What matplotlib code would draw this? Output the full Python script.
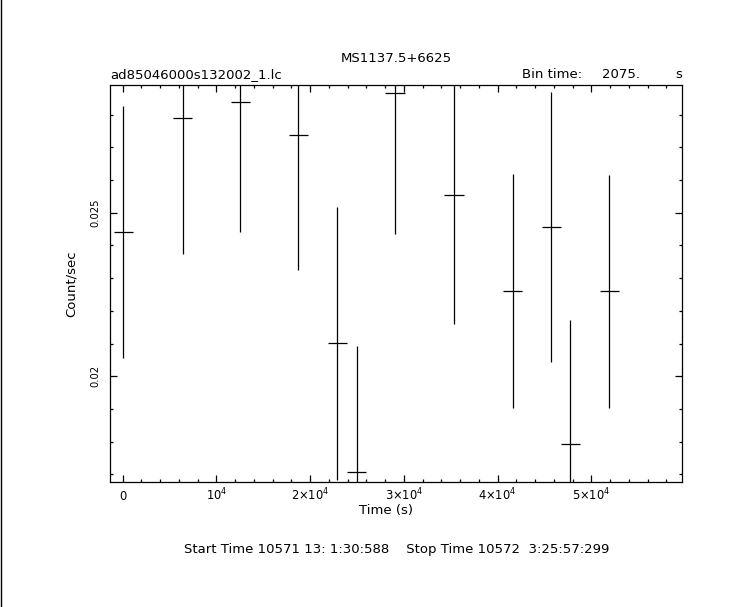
import matplotlib
matplotlib.use("Agg")
import matplotlib.pyplot as plt
from matplotlib.ticker import MultipleLocator, FixedLocator
from matplotlib.lines import Line2D

# Data
time_s = [64, 6401, 12550, 18737, 22898, 24965, 29052, 35346, 41609, 45731, 47756, 51917]
rate = [0.02442, 0.02789, 0.02838, 0.02737, 0.02101, 0.01707, 0.02866, 0.02553,
        0.02261, 0.02456, 0.01792, 0.02260]
rate_err = [0.00385, 0.00414, 0.00396, 0.00412, 0.00417, 0.00386, 0.00432, 0.00393,
            0.00357, 0.00412, 0.00380, 0.00356]
bin_time = 2075.0
xtick_vals = [0, 10000, 20000, 30000, 40000, 50000]
xtick_labels = ["0", r"$10^4$", r"$2{\times}10^4$", r"$3{\times}10^4$", r"$4{\times}10^4$", r"$5{\times}10^4$"]
ytick_vals = [0.02, 0.025]
ytick_labels = ["0.02", "0.025"]

W, H = 743, 607
plt.rcParams["font.family"] = ["DejaVu Sans"]
plt.rcParams["mathtext.fontset"] = "dejavusans"
fig = plt.figure(figsize=(W / 100, H / 100), dpi=100)
fig.patch.set_facecolor("white")

L, R, T, B = 110, 681.7, 85, 482
ax = fig.add_axes([L / W, 1 - B / H, (R - L) / W, (B - T) / H])

ax.errorbar(time_s, rate, yerr=rate_err, xerr=bin_time / 2, fmt="none",
            ecolor="black", elinewidth=0.9, capsize=0)

ax.set_xlim(-1355, 59640)
ax.set_ylim(0.01677, 0.028903)

for sp in ax.spines.values():
    sp.set_linewidth(0.9)
    sp.set_color("black")

ax.xaxis.set_major_locator(FixedLocator(xtick_vals))
ax.xaxis.set_minor_locator(MultipleLocator(2000))
ax.yaxis.set_major_locator(FixedLocator(ytick_vals))
ax.yaxis.set_minor_locator(MultipleLocator(0.001))
ax.tick_params(which="both", direction="in", top=True, right=True, width=0.9, colors="black")
ax.tick_params(which="major", length=5)
ax.tick_params(which="minor", length=2.3)
ax.set_xticklabels(xtick_labels, fontsize=8.3, va="baseline")
ax.tick_params(axis="x", which="major", pad=13)
ax.set_yticklabels(ytick_labels, fontsize=7.2, rotation=90, va="center")
ax.tick_params(axis="y", which="major", pad=7)

def ftext(x, y, s, **kw):
    fig.text(x / W, 1 - y / H, s, **kw)

fs = 9.5
ftext(395.9, 62, "MS1137.5+6625", ha="center", va="baseline", fontsize=fs)
ftext(110, 78, "ad85046000s132002_1.lc", ha="left", va="baseline", fontsize=fs)
ftext(521.7, 78, "Bin time:", ha="left", va="baseline", fontsize=fs)
ftext(640, 78, "2075.", ha="right", va="baseline", fontsize=fs)
ftext(682, 78, "s", ha="right", va="baseline", fontsize=fs)
ftext(386, 514, "Time (s)", ha="center", va="baseline", fontsize=fs)
ftext(71, 283.5, "Count/sec", ha="center", va="center", rotation=90, fontsize=fs)
ftext(397, 553, "Start Time 10571 13: 1:30:588    Stop Time 10572  3:25:57:299",
      ha="center", va="baseline", fontsize=fs)

fig.add_artist(Line2D([0.8 / W, 0.8 / W], [0, 1], transform=fig.transFigure,
                      color="black", linewidth=1.0))

fig.savefig("out.png", dpi=100, facecolor="white")
